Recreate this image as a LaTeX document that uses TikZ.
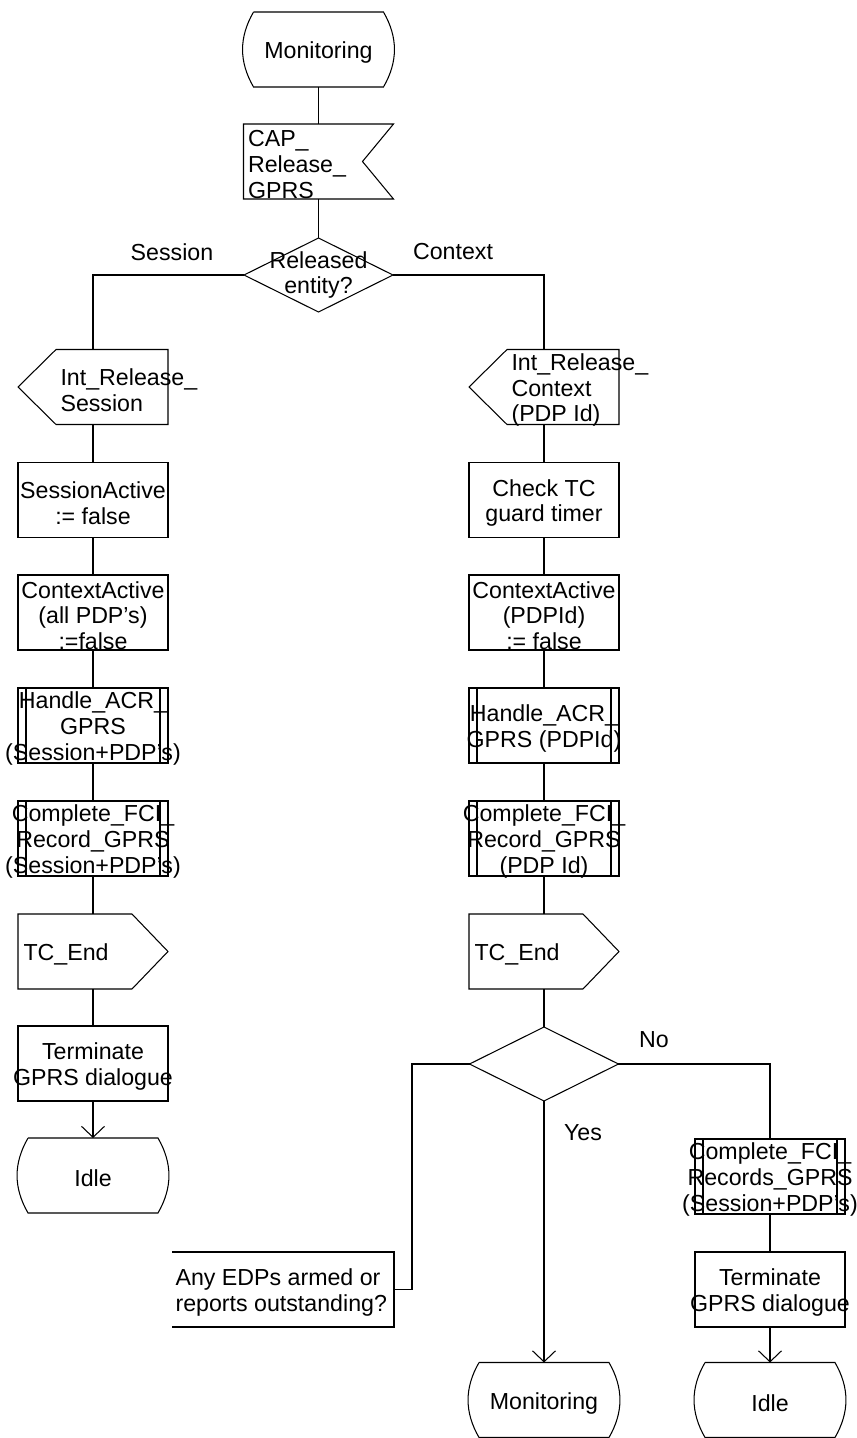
\documentclass[tikz,border=0pt]{standalone}
\usepackage{fontspec}
\setmainfont{Liberation Sans}
\usetikzlibrary{arrows.meta,calc,shapes.geometric}

\tikzset{
  every node/.style={font=\fontsize{13.2}{14.6}\selectfont},
  base/.style={minimum width=3cm,minimum height=1.5cm,inner sep=0pt,outer sep=0pt},
  ctext/.style={base,label={[align=center,inner sep=0pt,yshift=-0.06cm]center:{#1}}},
  ltext/.style 2 args={base,label={[align=left,anchor=west,inner sep=0pt,xshift=#1,yshift=-0.06cm]west:{#2}}},
  taskbox/.style={ctext={#1},draw},
  procbox/.style={ctext={#1},draw},
  statebox/.style={ctext={#1}},
  inbox/.style={ltext={0.08cm}{#1}},
  outbox/.style={ltext={0.1cm}{#1}},
  intbox/.style={ltext={0.84cm}{#1}},
  cmtbox/.style={ltext={0.06cm}{#1},minimum width=4.44cm},
  decbox/.style={diamond,draw,aspect=2,minimum width=2.98cm,minimum height=1.48cm,
    inner sep=0pt,outer sep=0pt,label={[align=center,inner sep=0pt]center:{#1}}}
}

\begin{document}
\begin{tikzpicture}[x=0.02cm,y=-0.02cm,line width=0.6pt,
    >={Straight Barb[length=0.22cm,width=0.46cm]}]
  \useasboundingbox (0,0) rectangle (857,1438);
  % top
  \node[statebox={Monitoring}] (mon1) at (318.5,49.5) {};
  \node[inbox={CAP\_\\Release\_\\GPRS}] (rel) at (318.5,161.5) {};
  \node[decbox={Released\\entity?}] (dec1) at (318.5,275) {};
  \node (lses) at (172,252) {Session};
  \node (lctx) at (453,252) {Context};
  % session branch
  \node[intbox={Int\_Release\_\\Session}] (ise) at (93,387) {};
  \node[taskbox={SessionActive\\:= false}] (sa) at (93,500) {};
  \node[taskbox={ContextActive\\(all PDP's)\\:=false}] (ca1) at (93,612.5) {};
  \node[procbox={Handle\_ACR\_\\GPRS\\(Session+PDP's)}] (hacr1) at (93,725.5) {};
  \node[procbox={Complete\_FCI\_\\Record\_GPRS\\(Session+PDP's)}] (fcr1) at (93,838.5) {};
  \node[outbox={TC\_End}] (tce1) at (93,951.5) {};
  \node[taskbox={Terminate\\GPRS dialogue}] (tgd1) at (93,1063.5) {};
  \node[statebox={Idle}] (idle1) at (93,1175.5) {};
  % context branch
  \node[intbox={Int\_Release\_\\Context\\(PDP Id)}] (irc) at (544,387) {};
  \node[taskbox={Check TC\\guard timer}] (chk) at (544,500) {};
  \node[taskbox={ContextActive\\(PDPId)\\:= false}] (ca2) at (544,612.5) {};
  \node[procbox={Handle\_ACR\_\\GPRS (PDPId)}] (hacr2) at (544,725.5) {};
  \node[procbox={Complete\_FCI\_\\Record\_GPRS\\(PDP Id)}] (fcr2) at (544,838.5) {};
  \node[outbox={TC\_End}] (tce2) at (544,951.5) {};
  \node[decbox={}] (dec2) at (544,1064) {};
  \node (lno) at (654,1040) {No};
  \node (lyes) at (583,1133) {Yes};
  \node[cmtbox={Any EDPs armed or\\reports outstanding?}] (cmt) at (283,1289.5) {};
  \node[statebox={Monitoring}] (mon2) at (544,1400) {};
  \node[procbox={Complete\_FCI\_\\Records\_GPRS\\(Session+PDP's)}] (fcr3) at (770,1176.5) {};
  \node[taskbox={Terminate\\GPRS dialogue}] (tgd2) at (770,1289.5) {};
  \node[statebox={Idle}] (idle2) at (770,1400) {};

  % outlines
  \foreach \n in {mon1,idle1,mon2,idle2}
    \draw ($(\n.north west)+(10,0)$) -- ($(\n.north east)-(10,0)$)
      to[bend left=30] ($(\n.south east)-(10,0)$) -- ($(\n.south west)+(10,0)$)
      to[bend left=30] ($(\n.north west)+(10,0)$);
  \draw (rel.north west) -- (rel.north east) -- ($(rel.east)-(31,0)$)
    -- (rel.south east) -- (rel.south west) -- cycle;
  \foreach \n in {ise,irc}
    \draw ($(\n.north west)+(38,0)$) -- (\n.north east) -- (\n.south east)
      -- ($(\n.south west)+(38,0)$) -- (\n.west) -- cycle;
  \foreach \n in {tce1,tce2}
    \draw (\n.north west) -- ($(\n.north east)-(36,0)$) -- (\n.east)
      -- ($(\n.south east)-(36,0)$) -- (\n.south west) -- cycle;
  \foreach \n in {hacr1,fcr1,hacr2,fcr2,fcr3}
    \draw ($(\n.north west)+(8,0)$) -- ($(\n.south west)+(8,0)$)
      ($(\n.north east)-(8,0)$) -- ($(\n.south east)-(8,0)$);
  \draw (cmt.north west) -- (cmt.north east) -- (cmt.south east) -- (cmt.south west);

  % connectors
  \draw (mon1.south) -- (rel.north);
  \draw (rel.south) -- (dec1.north);
  \draw (dec1.west) -| (ise.north);
  \draw (dec1.east) -| (irc.north);
  \foreach \a/\b in {ise/sa,sa/ca1,ca1/hacr1,hacr1/fcr1,fcr1/tce1,tce1/tgd1,
                     irc/chk,chk/ca2,ca2/hacr2,hacr2/fcr2,fcr2/tce2,tce2/dec2,fcr3/tgd2}
    \draw (\a.south) -- (\b.north);
  \draw[->] (tgd1.south) -- (idle1.north);
  \draw[->] (tgd2.south) -- (idle2.north);
  \draw[->] (dec2.south) -- (mon2.north);
  \draw (dec2.east) -| (fcr3.north);
  \coordinate (cbend) at (412,1064);
  \draw (dec2.west) -- (cbend) |- (cmt.east);
\end{tikzpicture}
\end{document}
